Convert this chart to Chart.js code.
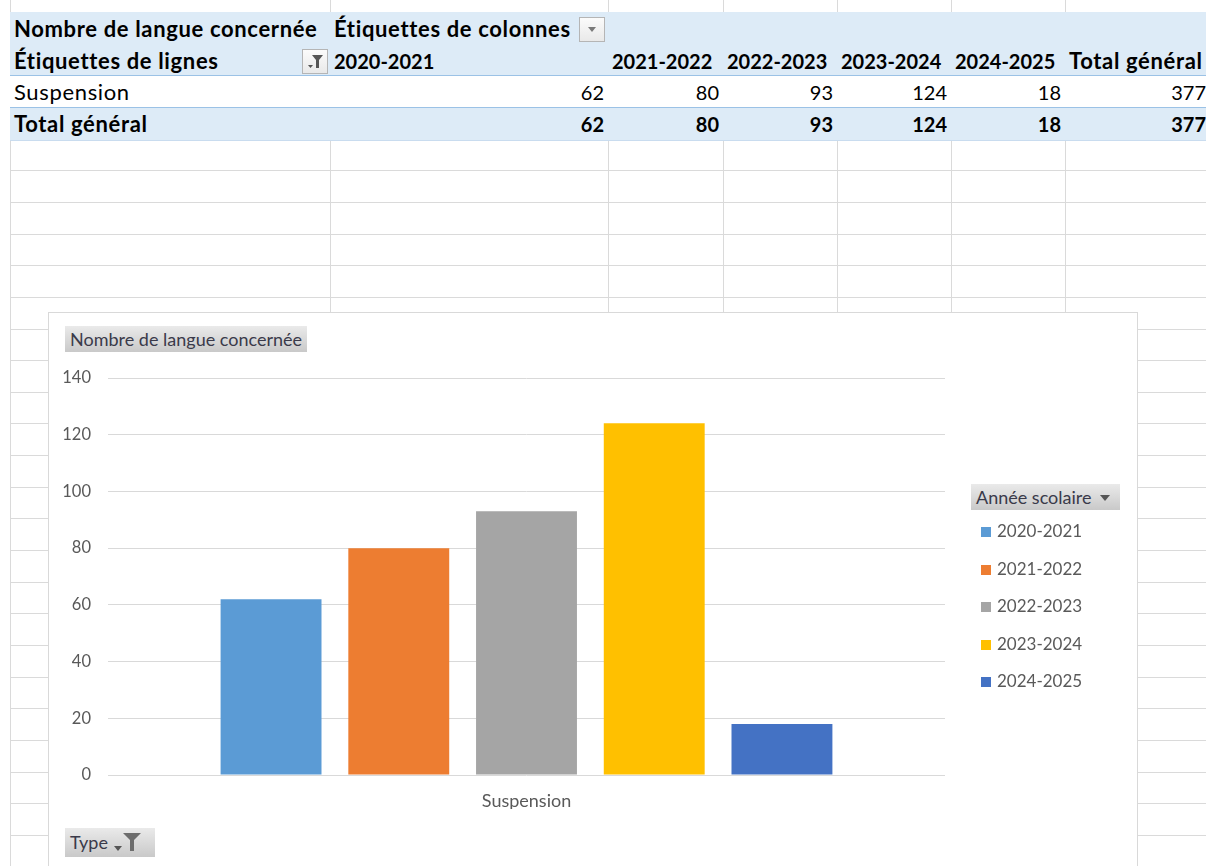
<!DOCTYPE html>
<html lang="fr">
<head>
    <meta charset="UTF-8">
    <title>Nombre de langue concernée</title>
    <script src="https://cdn.jsdelivr.net/npm/chart.js"></script>
    <style>
        html, body {
            margin: 0;
            padding: 0;
            background: #ffffff;
        }

        #sheet {
            position: relative;
            width: 1206px;
            height: 866px;
            overflow: hidden;
            font-family: Lato, "Noto Sans", sans-serif;
            color: #000;
        }

        .vline, .hline {
            position: absolute;
            background: #dadada;
        }

        .cell {
            position: absolute;
            box-sizing: border-box;
            padding: 0 4px;
            font-size: 20px;
            line-height: 34px;
            white-space: nowrap;
            overflow: hidden;
        }

        /* words are set a bit wider than the digits to look like Calibri */
        .txt {
            font-size: 22px;
            letter-spacing: 0.65px;
        }

        .bold { font-weight: bold; }
        .right { text-align: right; }

        .pivot-row {
            position: absolute;
            left: 10px;
            width: 1300px;
        }

        .dd-btn {
            position: absolute;
            width: 26px;
            height: 25px;
            box-sizing: border-box;
            border: 1px solid #b5b5b5;
            background: linear-gradient(#fbfbfb, #e9e9e9);
        }

        /* Chart box */
        #chartBox {
            position: absolute;
            left: 48px;
            top: 312px;
            width: 1090px;
            height: 560px;
            box-sizing: border-box;
            border: 1px solid #d9d9d9;
            background: #fff;
        }

        #chartBox canvas {
            position: absolute;
            left: 0;
            top: 0;
        }

        .field-btn {
            position: absolute;
            height: 26px;
            box-sizing: border-box;
            background: linear-gradient(#eaeaea, #c9c9c9);
            color: #3a3a4a;
            font-family: Lato, sans-serif;
            font-size: 18px;
            line-height: 26px;
            padding: 0 5px;
            white-space: nowrap;
        }

        #legend {
            position: absolute;
            left: 932px;
            top: 208px;
            font-family: Lato, sans-serif;
            font-size: 17px;
            color: #595959;
        }

        #legend .item {
            position: absolute;
            left: 0;
            height: 20px;
            line-height: 20px;
            white-space: nowrap;
        }

        #legend .sw {
            display: inline-block;
            width: 10px;
            height: 10px;
            margin-right: 6px;
            vertical-align: 0px;
        }
    </style>
</head>
<body>
<div id="sheet">
    <div id="chartBox">
        <canvas id="chart" width="1088" height="558"></canvas>
        <div class="field-btn" style="left:16px; top:13px; width:242px;">Nombre de langue concernée</div>
        <div class="field-btn" style="left:922px; top:171px; width:149px;">Année scolaire <svg width="12" height="10" viewBox="0 0 12 10" style="margin-left:3px; vertical-align:1px"><path d="M1 2 H11 L6 8 Z" fill="#555"/></svg></div>
        <div class="field-btn" style="left:16px; top:515px; width:90px; height:29px; line-height:29px;">Type <svg width="10" height="8" viewBox="0 0 10 8" style="vertical-align:-4px"><path d="M1 1 H9 L5 6 Z" fill="#555"/></svg><svg width="18" height="20" viewBox="0 0 18 20" style="vertical-align:-3px"><path d="M0 1 H18 L11 8 V19 H7 V8 Z" fill="#6d6d6d"/></svg></div>
        <div id="legend"></div>
    </div>
</div>

<script>
    // Pivot data
    const rowLabel = 'Suspension';
    const categories = ['Suspension'];
    const seriesLabels = ['2020-2021', '2021-2022', '2022-2023', '2023-2024', '2024-2025'];
    const seriesValues = [62, 80, 93, 124, 18];
    const seriesColors = ['#5B9BD5', '#ED7D31', '#A5A5A5', '#FFC000', '#4472C4'];
    const yMax = 140;
    const yStep = 20;

    // Sheet grid geometry
    const colEdges = [10, 330, 608, 723, 837, 951, 1065, 1210];
    const rowTop = 12;
    const rowH = 31.65;

    const sheet = document.getElementById('sheet');
    const chartBox = document.getElementById('chartBox');

    function addDiv(cls, css, html) {
        const d = document.createElement('div');
        d.className = cls;
        d.style.cssText = css;
        if (html !== undefined) d.innerHTML = html;
        sheet.insertBefore(d, chartBox);
        return d;
    }

    // gridlines
    colEdges.forEach(x => addDiv('vline', `left:${x}px; top:0; width:1px; height:866px;`));
    for (let i = -1; i < 28; i++) {
        const y = Math.round(rowTop + i * rowH);
        addDiv('hline', `left:10px; top:${y}px; width:1300px; height:1px;`);
    }

    // pivot fills
    const r = i => Math.round(rowTop + i * rowH);
    addDiv('pivot-row', `top:${r(0)}px; height:${r(2) - r(0)}px; background:#DDEBF7;`);
    addDiv('pivot-row', `top:${r(2)}px; height:${r(3) - r(2)}px; background:#fff; border-top:1px solid #9BC2E6;`);
    addDiv('pivot-row', `top:${r(3)}px; height:${r(4) - r(3)}px; background:#DDEBF7; border-top:1px solid #9BC2E6; border-bottom:1px solid #c9dcef;`);

    function cell(row, col, text, cls) {
        const left = colEdges[col];
        const w = colEdges[col + 1] - left;
        addDiv('cell ' + (cls || ''), `left:${left}px; top:${r(row)}px; width:${w}px; height:${r(row + 1) - r(row)}px;`, text);
    }

    const total = seriesValues.reduce((a, b) => a + b, 0);

    cell(0, 0, 'Nombre de langue concernée', 'bold txt');
    cell(0, 1, 'Étiquettes de colonnes', 'bold txt');
    cell(1, 0, 'Étiquettes de lignes', 'bold txt');
    seriesLabels.forEach((s, i) => cell(1, i + 1, s, 'bold'));
    cell(1, 6, 'Total général', 'bold txt');
    cell(2, 0, rowLabel, 'txt');
    seriesValues.forEach((v, i) => cell(2, i + 1, v, 'right'));
    cell(2, 6, total, 'right');
    cell(3, 0, 'Total général', 'bold txt');
    seriesValues.forEach((v, i) => cell(3, i + 1, v, 'bold right'));
    cell(3, 6, total, 'bold right');

    // dropdown buttons in the pivot header
    addDiv('dd-btn', 'left:579px; top:17px;',
        '<svg width="24" height="23" viewBox="0 0 24 23"><path d="M8 9 H16 L12 14 Z" fill="#7a7a7a"/></svg>');
    addDiv('dd-btn', 'left:302px; top:49px;',
        '<svg width="24" height="23" viewBox="0 0 24 23"><path d="M5 15 H10 L7.5 18 Z" fill="#555"/><path d="M9 5 H20 L16 10 V18 H13 V10 Z" fill="#555"/></svg>');

    // HTML legend
    const legend = document.getElementById('legend');
    const legendY = [0, 37.5, 75, 112.5, 150];
    seriesLabels.forEach((s, i) => {
        const it = document.createElement('div');
        it.className = 'item';
        it.style.top = legendY[i] + 'px';
        it.innerHTML = `<span class="sw" style="background:${seriesColors[i]}"></span>${s}`;
        legend.appendChild(it);
    });

    // Chart
    const datasets = seriesLabels.map((s, i) => ({
        label: s,
        data: [seriesValues[i]],
        backgroundColor: seriesColors[i],
        borderWidth: 0,
        categoryPercentage: 0.763,
        barPercentage: 0.79
    }));

    new Chart(document.getElementById('chart'), {
        type: 'bar',
        data: {
            labels: categories,
            datasets: datasets
        },
        options: {
            responsive: false,
            animation: false,
            layout: {
                padding: { top: 65, right: 192, bottom: 62, left: 0 }
            },
            scales: {
                x: {
                    grid: { display: false, drawTicks: false },
                    border: { display: false },
                    ticks: {
                        color: '#595959',
                        font: { family: 'Lato', size: 18 },
                        padding: 15
                    },
                    afterFit: scale => { scale.height = 34; }
                },
                y: {
                    min: 0,
                    max: yMax,
                    ticks: {
                        stepSize: yStep,
                        color: '#595959',
                        font: { family: 'Lato', size: 16.5 },
                        padding: 17
                    },
                    grid: { color: '#d9d9d9', drawTicks: false, lineWidth: 1 },
                    border: { display: false },
                    afterFit: scale => { scale.width = 59; }
                }
            },
            plugins: {
                legend: { display: false },
                tooltip: { enabled: false }
            }
        }
    });
</script>
</body>
</html>
